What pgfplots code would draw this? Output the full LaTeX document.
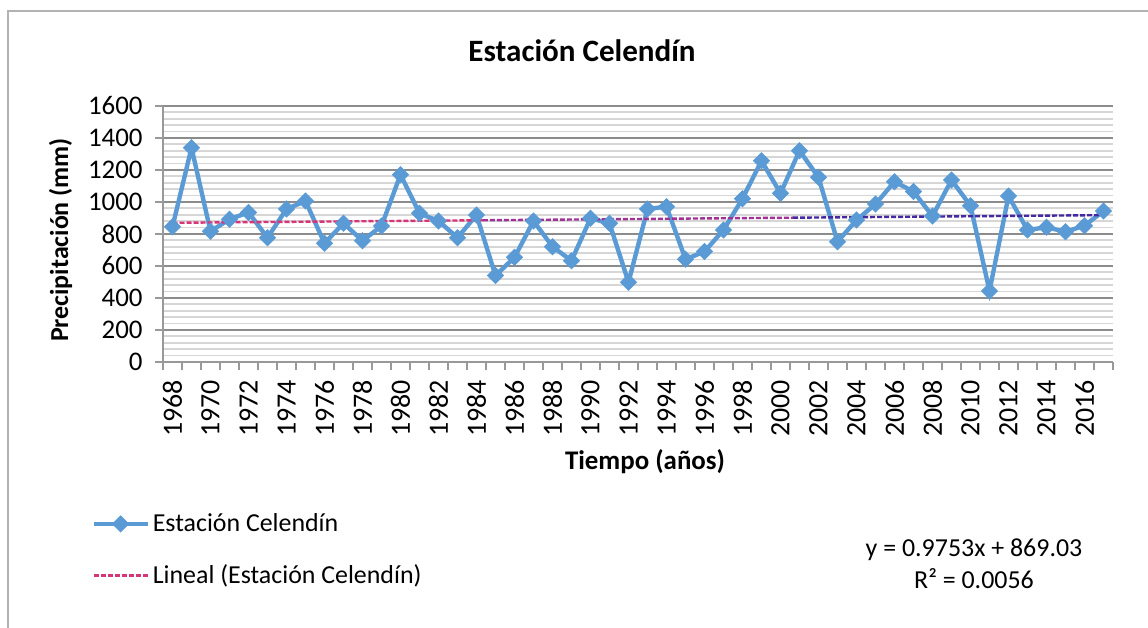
\documentclass[border=0pt]{standalone}
\usepackage{pgfplots}
\pgfplotsset{compat=1.18}
\usepackage{fontspec}
\setmainfont{Carlito}
\definecolor{exblue}{RGB}{91,155,213}
\definecolor{trA}{RGB}{214,54,120}
\definecolor{trB}{RGB}{160,50,150}
\definecolor{trC}{RGB}{70,40,160}
\begin{document}
\begin{tikzpicture}
\useasboundingbox (0,0) rectangle (574bp,314bp);
\fill[white] (0,0) rectangle (574bp,314bp);
\draw[black!30, line width=0.8bp] (4bp,0) -- (4bp,308.5bp) -- (574bp,308.5bp);
\begin{axis}[
  scale only axis, width=475bp, height=128bp,
  at={(81.5bp,133bp)}, anchor=south west,
  xmin=1967.5, xmax=2017.5, ymin=0, ymax=1600,
  axis x line*=bottom, axis y line*=left,
  axis line style={black!40, line width=0.6bp, -},
  xtick={1967.5,1968.5,...,2017.5}, xticklabels={},
  extra x ticks={1968,1970,...,2016},
  extra x tick labels={1968,1970,1972,1974,1976,1978,1980,1982,1984,1986,1988,1990,1992,1994,1996,1998,2000,2002,2004,2006,2008,2010,2012,2014,2016},
  extra x tick style={major tick length=0pt},
  ytick={0,200,...,1600},
  minor y tick num=4,
  ymajorgrids, yminorgrids,
  major grid style={black!45, line width=0.6bp},
  minor grid style={black!16, line width=0.9bp},
  tick align=outside, major tick length=4bp, minor tick length=0pt,
  tick style={black!40, line width=0.6bp},
  /pgf/number format/assume math mode=true,
  /pgf/number format/1000 sep={},
  yticklabel style={font=\fontsize{13.5}{16}\selectfont, inner sep=0pt},
  yticklabel shift=6bp,
  xticklabel style={font=\fontsize{14}{16}\selectfont, inner sep=0pt, rotate=90, anchor=east},
  xticklabel shift=9bp,
  legend style={draw=none, fill=none, at={(-0.0758,-0.734)}, anchor=west,
    font=\fontsize{13}{15}\selectfont, row sep=12bp, inner sep=0pt,
    nodes={inner sep=1.5bp, anchor=west}},
  legend cell align=left,
  legend image code/.code={\draw[mark repeat=2, mark phase=2, #1] plot coordinates {(0bp,0bp) (13.5bp,0bp) (27bp,0bp)};},
]
\addplot[exblue, line width=2.2bp, mark=square*, mark size=2.8bp, mark options={solid, rotate=45, fill=exblue, draw=exblue, line width=0.5bp}] coordinates {
(1968,845) (1969,1339) (1970,817) (1971,892) (1972,935) (1973,777) (1974,956) (1975,1006) (1976,742) (1977,867)
(1978,758) (1979,850) (1980,1171) (1981,929) (1982,881) (1983,777) (1984,919) (1985,540) (1986,654) (1987,881)
(1988,721) (1989,633) (1990,898) (1991,867) (1992,498) (1993,956) (1994,971) (1995,642) (1996,690) (1997,825)
(1998,1021) (1999,1258) (2000,1054) (2001,1321) (2002,1154) (2003,752) (2004,887) (2005,987) (2006,1127) (2007,1065)
(2008,912) (2009,1137) (2010,977) (2011,444) (2012,1037) (2013,825) (2014,842) (2015,814) (2016,852) (2017,944)
};
\addlegendentry{Estación Celendín}
\addplot[trA, line width=1.2bp, dash pattern=on 2.5bp off 1bp, no marks] coordinates {(1968,870.0) (1984.33,885.9)};
\addlegendentry{Lineal (Estación Celendín)}
\addplot[trB, line width=1.2bp, dash pattern=on 2.5bp off 1bp, no marks, forget plot] coordinates {(1984.33,885.9) (2000.67,901.9)};
\addplot[trC, line width=1.2bp, dash pattern=on 2.5bp off 1bp, no marks, forget plot] coordinates {(2000.67,901.9) (2017,917.8)};
\end{axis}
\node[anchor=base, font=\bfseries\fontsize{15.6}{18}\selectfont] at (291bp,283.2bp) {Estación Celendín};
\node[anchor=base, rotate=90, font=\bfseries\fontsize{13}{15}\selectfont] at (34bp,194bp) {Precipitación (mm)};
\node[anchor=base, font=\bfseries\fontsize{13.5}{15}\selectfont] at (322.5bp,79bp) {Tiempo (años)};
\node[anchor=base, font=\fontsize{13}{15}\selectfont] at (487bp,35.65bp) {y = 0.9753x + 869.03};
\node[anchor=base, font=\fontsize{13}{15}\selectfont] at (487bp,19.85bp) {R² = 0.0056};
\end{tikzpicture}
\end{document}
